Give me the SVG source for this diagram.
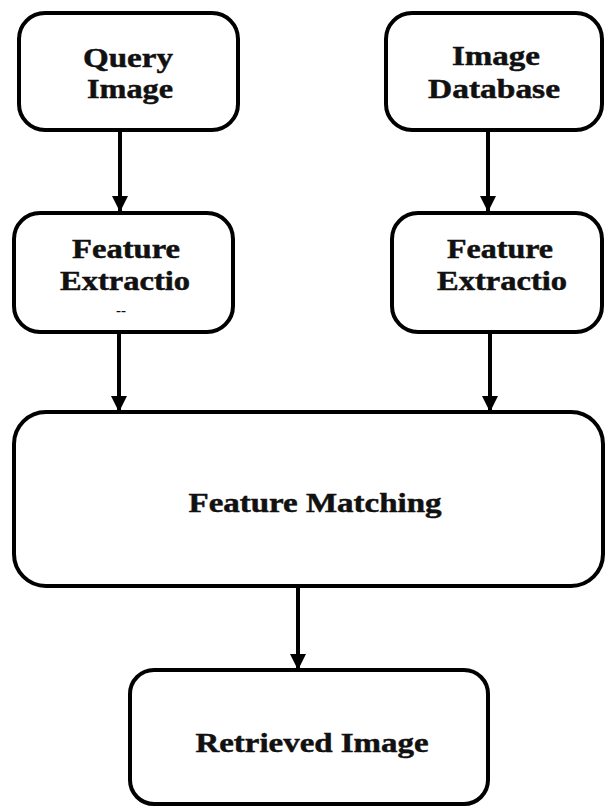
<svg xmlns="http://www.w3.org/2000/svg" width="605" height="807" viewBox="0 0 605 807">
<style>
.box{fill:#fff;stroke:#000;stroke-width:4}
.lbl{font-family:"Liberation Serif","Times New Roman",Times,serif;font-weight:bold;font-size:28px;fill:#111;stroke:#111;stroke-width:0.5;text-anchor:middle}
.con{stroke:#000;stroke-width:4;fill:none;marker-end:url(#ah)}
</style>
<defs>
<marker id="ah" markerUnits="userSpaceOnUse" markerWidth="18" markerHeight="16" refX="18" refY="9" orient="auto" viewBox="0 0 18 18">
<path d="M0,0 L18,9 L0,18 Z" fill="#000"/>
</marker>
</defs>
<rect width="605" height="807" fill="#fff"/>
<g id="connectors">
<line class="con" x1="120" y1="131" x2="120" y2="212"/>
<line class="con" x1="488" y1="131" x2="488" y2="212"/>
<line class="con" x1="119" y1="333" x2="119" y2="412"/>
<line class="con" x1="490" y1="333" x2="490" y2="412"/>
<line class="con" x1="298" y1="587" x2="298" y2="670"/>
</g>
<g id="query-image">
<rect class="box" x="19" y="13" width="219" height="117" rx="26"/>
<text class="lbl" x="128" y="67" textLength="90" lengthAdjust="spacingAndGlyphs">Query</text>
<text class="lbl" x="130" y="98" textLength="86" lengthAdjust="spacingAndGlyphs">Image</text>
</g>
<g id="image-database">
<rect class="box" x="386" y="13" width="216" height="117" rx="26"/>
<text class="lbl" x="496" y="65" textLength="88" lengthAdjust="spacingAndGlyphs">Image</text>
<text class="lbl" x="494" y="98" textLength="132" lengthAdjust="spacingAndGlyphs">Database</text>
</g>
<g id="feature-extraction-left">
<rect class="box" x="14" y="213" width="219" height="119" rx="26"/>
<text class="lbl" x="126" y="258" textLength="108" lengthAdjust="spacingAndGlyphs">Feature</text>
<text class="lbl" x="125" y="290" textLength="130" lengthAdjust="spacingAndGlyphs">Extractio</text>
<text class="lbl" x="121" y="315" style="font-size:15px;stroke-width:0">--</text>
</g>
<g id="feature-extraction-right">
<rect class="box" x="392" y="213" width="210" height="119" rx="26"/>
<text class="lbl" x="500" y="258" textLength="106" lengthAdjust="spacingAndGlyphs">Feature</text>
<text class="lbl" x="502" y="290" textLength="130" lengthAdjust="spacingAndGlyphs">Extractio</text>
</g>
<g id="feature-matching">
<rect class="box" x="14" y="412" width="589" height="174" rx="32"/>
<text class="lbl" x="315" y="512" textLength="253" lengthAdjust="spacingAndGlyphs">Feature Matching</text>
</g>
<g id="retrieved-image">
<rect class="box" x="130" y="670" width="358" height="134" rx="24"/>
<text class="lbl" x="312" y="752" textLength="233" lengthAdjust="spacingAndGlyphs">Retrieved Image</text>
</g>
</svg>
